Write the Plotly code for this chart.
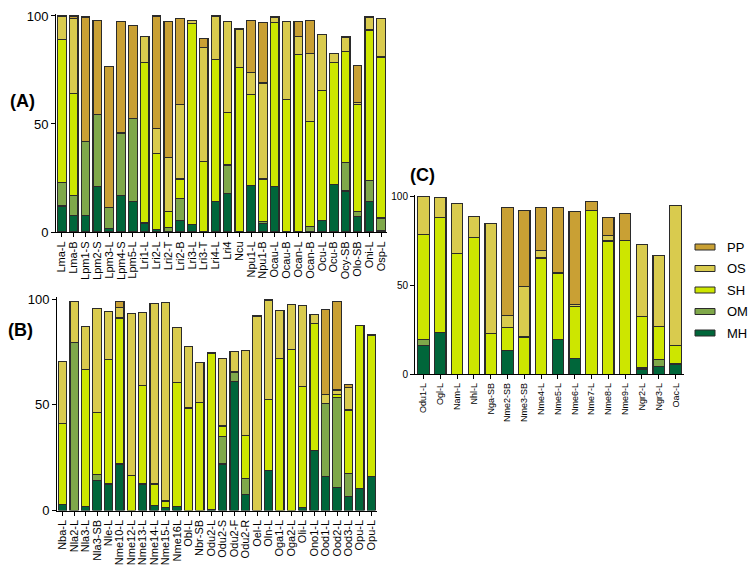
import plotly.graph_objects as go

# ---------------- data ----------------
SERIES = ["MH", "OM", "SH", "OS", "PP"]
COLORS = {"MH": "#00663a", "OM": "#7fa84a", "SH": "#cde600", "OS": "#d9cb4e", "PP": "#c9a034"}

A_cats = ["Lma-L", "Lma-B", "Lpm1-S", "Lpm2-S", "Lpm3-L", "Lpm4-S", "Lpm5-L", "Lri1-L", "Lri2-L", "Lri2-T",
          "Lri2-B", "Lri3-L", "Lri3-T", "Lri4-L", "Lri4", "Ncu", "Npu1-L", "Npu1-B", "Ocau-L", "Ocau-B",
          "Ocan-L", "Ocan-B", "Ocu-L", "Ocu-B", "Ocy-SB", "Olo-SB", "Oni-L", "Osp-L"]
A_MH = [12, 7.5, 7.5, 21, 1.5, 17, 14, 4, 1, 0, 5.5, 3.5, 0, 14, 18, 0, 21.5, 4, 21, 0, 0, 0, 5.5, 22, 19, 7, 14, 0.5]
A_OM = [11, 9.5, 34.5, 33.5, 10, 28.5, 38.5, 0.5, 0, 2, 10, 0, 0, 0, 13, 0, 0, 1, 0, 0, 0, 2.5, 0, 0, 13, 2.5, 10, 6]
A_SH = [66, 47, 0, 0, 0, 0.5, 0, 74, 35.5, 7.5, 9, 93, 32.5, 66, 24.5, 76, 42, 19.5, 76, 61.5, 82, 48.5, 60, 56.5, 51.5, 49.5, 69.5, 74.5]
A_OS = [11, 35, 0, 0, 0, 0, 0, 12, 11.5, 25, 34.5, 1.5, 53, 20, 42, 18, 10.5, 44.5, 2.5, 36, 8.5, 31.5, 26, 4, 6.5, 1, 6, 18]
A_PP = [0, 1, 57.5, 43.5, 65, 51.5, 43, 0, 52, 63, 40, 0, 4, 0, 0, 0, 24, 28, 0, 0, 7, 15.5, 0, 0, 0.5, 17, 0, 0]

B_cats = ["Nba-L", "Nla2-L", "Nla3-L", "Nla3-SB", "Nle-L", "Nme10-L", "Nme12-L", "Nme13-L", "Nme14-L", "Nme15-L",
          "Nme16L", "Obl-L", "Nbr-SB", "Odu2-L", "Odu2-S", "Odu2-F", "Odu2-R", "Oel-L", "Oln-L", "Oga1-L",
          "Oga2-L", "Oli-L", "Ono1-L", "Ood1-L", "Ood2-L", "Ood3-L", "Opu-L", "Opu-L"]
B_MH = [3, 0, 2, 14, 12.5, 22, 0, 12.5, 2.5, 1.5, 2, 0, 0, 0.5, 22, 61, 7.5, 0, 19, 0, 0, 1.5, 28.5, 16, 11, 6.5, 10.5, 16]
B_OM = [0, 79.5, 0, 3, 0, 0, 0, 0, 0, 0, 0, 0, 0, 0, 13, 4.5, 7.5, 0, 0, 0, 0, 0, 0, 34.5, 42.5, 11, 0, 0]
B_SH = [38, 0, 64.5, 29.5, 59, 69, 16.5, 46.5, 10, 3, 58.5, 48.5, 51, 74, 5, 0, 20.5, 0, 33.5, 72, 76, 57, 60, 0, 1.5, 30, 77, 67]
B_OS = [29.5, 19.5, 20.5, 49, 22.5, 5, 76.5, 34.5, 85.5, 94, 26, 29, 19, 0, 32, 9.5, 40, 92, 47, 22.5, 21.5, 38.5, 4, 4.5, 2, 10.5, 0, 0]
B_PP = [0, 0, 0, 0, 0, 3, 0, 0, 0, 0, 0, 0, 0, 0, 0, 0, 0, 0, 0, 0, 0, 0, 0, 40, 42, 1.5, 0, 0]

C_cats = ["Odu1-L", "Ogl-L", "Nam-L", "Nhl-L", "Nga-SB", "Nme2-SB", "Nme3-SB", "Nme4-L", "Nme5-L", "Nme6-L",
          "Nme7-L", "Nme8-L", "Nme9-L", "Ngr2-L", "Ngr3-L", "Oac-L"]
C_MH = [16, 23.5, 0, 0, 0, 13.5, 0, 0, 19.5, 9, 0, 0, 0, 2.5, 4.5, 5.5]
C_OM = [3.5, 0, 0, 0, 0, 0, 0, 0, 0, 0, 0, 0, 0, 1, 4, 0.5]
C_SH = [59, 65, 68, 77, 23, 13, 21, 65.5, 37.5, 29, 92, 75, 75.5, 29, 18.5, 10]
C_OS = [21.5, 11, 28, 12, 62, 6.5, 28.5, 4, 0, 1.5, 0, 3, 0, 40.5, 40, 79]
C_PP = [0, 0, 0, 0, 0, 61, 42.5, 24.5, 37, 52, 5.5, 10.5, 15, 0, 0, 0]

Y_TICKS = [0, 50, 100]

# ---------------- layout helpers ----------------
W, H = 748, 567
def dx(p0, p1):
    return [p0 / W, p1 / W]
def dy(ptop, pbot):
    return [1 - pbot / H, 1 - ptop / H]

panels = [
    ("", A_cats, {"MH": A_MH, "OM": A_OM, "SH": A_SH, "OS": A_OS, "PP": A_PP}, (56, 387), (13.8, 232), 11, 13, 0.27),
    ("2", B_cats, {"MH": B_MH, "OM": B_OM, "SH": B_SH, "OS": B_OS, "PP": B_PP}, (57, 377), (296.9, 510.5), 11, 13, 0.27),
    ("3", C_cats, {"MH": C_MH, "OM": C_OM, "SH": C_SH, "OS": C_OS, "PP": C_PP}, (415, 684), (194.9, 374.3), 9, 10, 0.32),
]

fig = go.Figure()
layout = dict(
    width=W, height=H, margin=dict(l=0, r=0, t=0, b=0, autoexpand=False),
    paper_bgcolor="white", plot_bgcolor="white", barmode="stack",
    showlegend=False, font=dict(family="Liberation Sans, Arial, sans-serif", color="black"),
)

for suffix, cats, data, xp, yp, tfs, yfs, gap in panels:
    xs = list(range(len(cats)))
    for s in SERIES:
        yvals = [v if v else None for v in data[s]]  # skip empty segments so no stray outlines
        fig.add_trace(go.Bar(
            x=xs, y=yvals, name=s, marker=dict(color=COLORS[s], line=dict(color="#2b2b2b", width=1.2)),
            xaxis="x" + suffix, yaxis="y" + suffix, width=1 - gap, showlegend=False,
            hovertemplate="%{y}<extra>" + s + "</extra>",
        ))
    layout["xaxis" + suffix] = dict(
        domain=dx(*xp), anchor="y" + suffix, range=[-0.5, len(cats) - 0.5], automargin=False,
        tickmode="array", tickvals=xs, ticktext=cats, tickangle=-90,
        showline=True, linecolor="black", linewidth=1, ticks="outside", ticklen=4, tickcolor="black",
        tickfont=dict(size=tfs, color="black"), showgrid=False, zeroline=False,
    )
    layout["yaxis" + suffix] = dict(
        domain=dy(*yp), anchor="x" + suffix, range=[0, 101], automargin=False,
        tickmode="array", tickvals=Y_TICKS,
        showline=True, linecolor="black", linewidth=1, ticks="outside", ticklen=4, tickcolor="black",
        tickfont=dict(size=yfs, color="black"), showgrid=False, zeroline=False,
    )

fig.update_layout(**layout)

# panel letters
for txt, px, py in [("(A)", 22, 101), ("(B)", 20, 330), ("(C)", 422, 175)]:
    fig.add_annotation(text="<b>" + txt + "</b>", x=px / W, y=1 - py / H, xref="paper", yref="paper",
                       showarrow=False, font=dict(size=18, color="black"), xanchor="center", yanchor="middle")

# legend (drawn manually to match thin swatches)
legend_rows = [("PP", 247), ("OS", 268.5), ("SH", 290), ("OM", 311.5), ("MH", 333)]
for s, py in legend_rows:
    fig.add_shape(type="rect", xref="paper", yref="paper",
                  x0=695 / W, x1=715 / W, y0=1 - (py + 3) / H, y1=1 - (py - 3) / H,
                  fillcolor=COLORS[s], line=dict(color="#2b2b2b", width=1))
    fig.add_annotation(text=s, x=725 / W, y=1 - py / H, xref="paper", yref="paper", showarrow=False,
                       xanchor="left", yanchor="middle", font=dict(size=13, color="black"))

fig.write_html("out.html", config={"displayModeBar": False},
               post_script="document.body.style.margin='0px';")
